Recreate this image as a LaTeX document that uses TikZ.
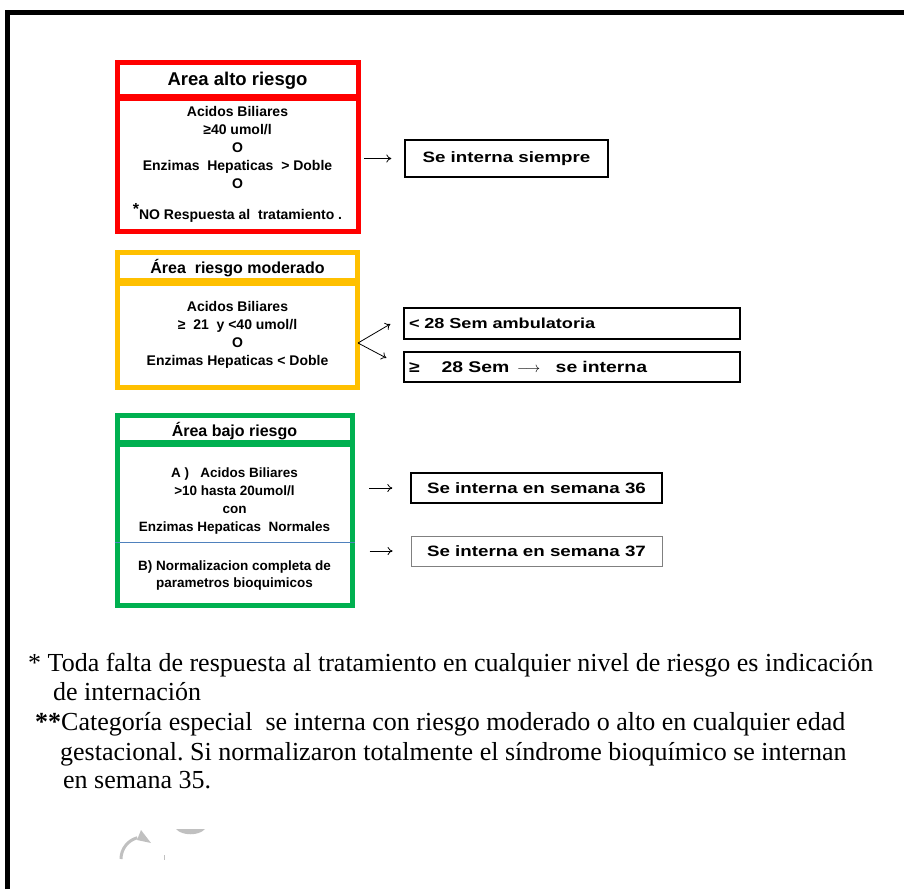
\documentclass[tikz,border=0pt]{standalone}
\usepackage{fontspec}
\setmainfont{Liberation Serif}
\newfontfamily\arial{Liberation Sans}
\newfontfamily\arialancha[FakeStretch=1.25]{Liberation Sans}
\usetikzlibrary{arrows.meta}
\definecolor{rojo}{RGB}{255,0,0}
\definecolor{naranja}{RGB}{255,192,0}
\definecolor{verde}{RGB}{0,176,80}
\definecolor{azul}{RGB}{79,129,189}
\definecolor{gris}{RGB}{192,192,192}
\frenchspacing
\tikzset{
  titulo/.style={draw=#1, line width=5pt, inner sep=0pt, text depth=0pt, font=\arial\bfseries\fontsize{16}{18}\selectfont},
  cuerpo/.style={draw=#1, line width=5pt, inner sep=0pt, align=center, font=\arial\bfseries\fontsize{14}{18}\selectfont},
  salida/.style={draw, line width=1.3pt, inner sep=0pt, font=\arialancha\bfseries\fontsize{15}{18}\selectfont},
  nota/.style={anchor=base west, inner sep=0pt, font=\fontsize{26}{30}\selectfont},
}
\begin{document}
\begin{tikzpicture}[x=1pt, y=-1pt, >={To[length=5pt,width=8pt]}, line join=miter]
  \useasboundingbox (0,0) rectangle (904,889);
  % marco
  \draw[line width=5pt] (7.5,889) -- (7.5,12) -- (904,12);

  % area alto riesgo
  \node[titulo=rojo, minimum width=241pt, minimum height=34pt, font=\arial\bfseries\fontsize{18.5}{20}\selectfont] (rtit) at (237.5,79) {Area alto riesgo};
  \node[cuerpo=rojo, minimum width=241pt, minimum height=133pt] (rcue) at (237.5,164.5)
    {Acidos Biliares\\ ≥40 umol/l\\ O\\ Enzimas\ \ Hepaticas\ \ > Doble\\ O\\[13pt]
     \raisebox{5pt}{\fontsize{16}{18}\selectfont *}NO Respuesta al\ \ tratamiento .};
  \node[salida, minimum width=203pt, minimum height=37pt] (rsal) at (506.5,158.5) {Se interna siempre};
  \draw[->, line width=0.8pt] ([xshift=3.5pt]rcue.east |- rsal.west) -- ([xshift=-13pt]rsal.west);

  % area riesgo moderado
  \node[titulo=naranja, minimum width=240pt, minimum height=28pt] (otit) at (237.5,266.5) {Área\ \ riesgo moderado};
  \node[cuerpo=naranja, minimum width=240pt, minimum height=104pt] (ocue) at (237.5,335)
    {Acidos Biliares\\ ≥\ \ 21\ \ y <40 umol/l\\ O\\ Enzimas Hepaticas < Doble};
  \node[salida, minimum height=31pt, text width=326pt, inner xsep=5pt, align=left, font=\arialancha\bfseries\fontsize{14.5}{18}\selectfont] (oamb) at (572,323.5) {< 28 Sem ambulatoria};
  \node[salida, minimum height=30pt, text width=326pt, inner xsep=5pt, align=left, font=\arialancha\bfseries\fontsize{15.5}{18}\selectfont] (oint) at (572,367) {≥\hspace{22pt}28 Sem\ \,$\longrightarrow$\ \ \ se interna};
  \coordinate (ov) at ([shift={(-2,8)}]ocue.east);
  \draw[->, line width=0.8pt] (ov) -- ([shift={(-13,0.5)}]oamb.west);
  \draw[->, line width=0.8pt] (ov) -- ([shift={(-17,-9)}]oint.west);

  % area bajo riesgo
  \node[titulo=verde, minimum width=235pt, minimum height=27pt] (gtit) at (234.5,429) {Área bajo riesgo};
  \node[cuerpo=verde, minimum width=235pt, minimum height=161pt] (gcue) at (234.5,524.5) {};
  \node[cuerpo=none, draw=none, font=\arial\bfseries\fontsize{13.5}{18}\selectfont] (ga) at (234.5,501)
    {A )\ \ \ Acidos Biliares\\ >10 hasta 20umol/l\\ con\\ Enzimas Hepaticas\ \ Normales};
  \node[cuerpo=none, draw=none, font=\arial\bfseries\fontsize{13.5}{17}\selectfont] (gb) at (234.5,575)
    {B) Normalizacion completa de\\ parametros bioquimicos};
  \draw[azul, line width=0.8pt] (gcue.west |- 0,542) -- (gcue.east |- 0,542);
  \node[salida, minimum width=251pt, minimum height=30pt] (g36) at (536.5,488) {Se interna en semana 36};
  \node[salida, draw=gray, line width=0.8pt, minimum width=251pt, minimum height=30pt] (g37) at (536.5,551) {Se interna en semana 37};
  \draw[->, line width=0.8pt] ([xshift=-41pt]g36.west) -- ([xshift=-18pt]g36.west);
  \draw[->, line width=0.8pt] ([xshift=-41pt]g37.west) -- ([xshift=-18pt]g37.west);

  % notas
  \node[nota] (n1) at (28,671) {* Toda falta de respuesta al tratamiento en cualquier nivel de riesgo es indicación};
  \node[nota] (n2) at (53,700) {de internación};
  \node[nota] (n3) at (35,730) {\textbf{**}Categoría especial\ \ se interna con riesgo moderado o alto en cualquier edad};
  \node[nota] (n4) at (60,760) {gestacional. Si normalizaron totalmente el síndrome bioquímico se internan};
  \node[nota] (n5) at (63,788) {en semana 35.};

  % restos grises
  \draw[gris, line width=3pt] (121,859) arc[start angle=180, end angle=255, radius=22];
  \fill[gris] (141,830) -- (151,843) -- (137,840) -- cycle;
  \draw[gris, line width=1pt] (164,855) -- (164,860);
  \fill[gris] (176,829) .. controls (182,836) and (199,836) .. (205,829) -- cycle;
\end{tikzpicture}
\end{document}
